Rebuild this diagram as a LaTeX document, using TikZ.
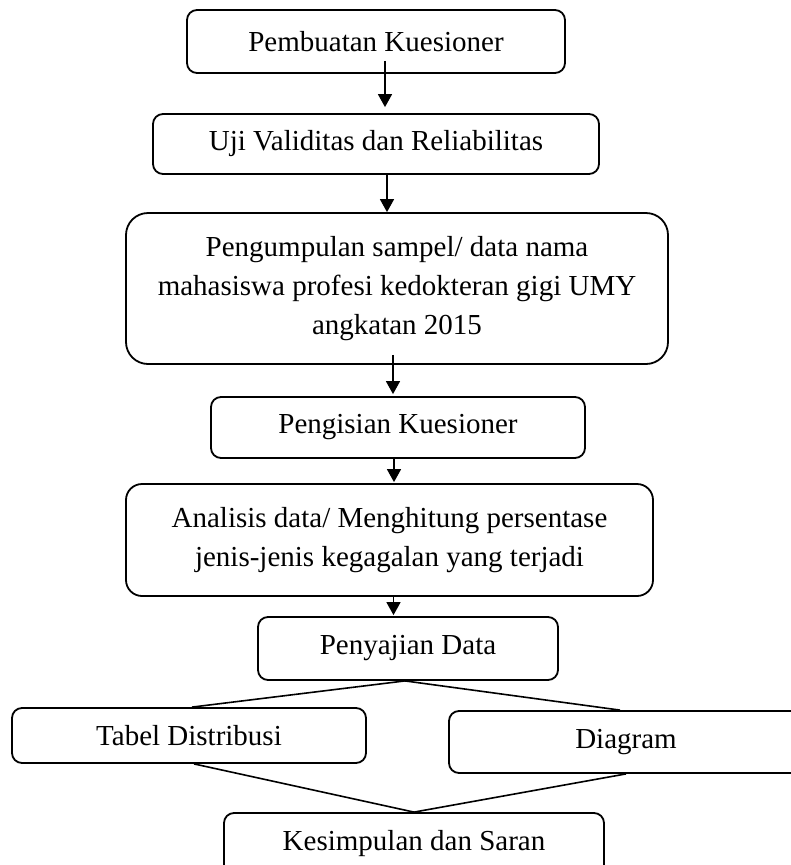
\documentclass[tikz,border=0pt]{standalone}
\usepackage{fontspec}
\setmainfont{Liberation Serif}
\usepackage{tikz}
\usetikzlibrary{arrows.meta,positioning,calc}

\begin{document}
\begin{tikzpicture}[x=1pt,y=-1pt,
    stage/.style={rectangle,rounded corners=10pt,draw=black,line width=1.8pt,align=center,inner sep=0pt,
      font=\fontsize{29}{39}\selectfont},
    flow/.style={-{Triangle[length=13pt,width=14pt]},line width=1.5pt},
    link/.style={line width=1.6pt},
]
\useasboundingbox (0,0) rectangle (791,865);
\clip (0,0) rectangle (791,865);
\node[stage,minimum width=378pt,minimum height=63pt] (buat) at (376,41.5) {Pembuatan Kuesioner};
\node[stage,minimum width=446pt,minimum height=60pt] (uji) at (376,144) {Uji Validitas dan Reliabilitas};
\node[stage,rounded corners=22pt,minimum width=542pt,minimum height=151pt] (sampel) at (397,288.5)
  {Pengumpulan sampel/ data nama\\mahasiswa profesi kedokteran gigi UMY\\angkatan 2015};
\node[stage,minimum width=374pt,minimum height=61pt] (isi) at (398,427.5) {Pengisian Kuesioner};
\node[stage,rounded corners=16pt,minimum width=527pt,minimum height=112pt] (analisis) at (389.5,540)
  {Analisis data/ Menghitung persentase\\jenis-jenis kegagalan yang terjadi};
\node[stage,minimum width=300pt,minimum height=63pt] (saji) at (408,648.5) {Penyajian Data};
\node[stage,minimum width=354pt,minimum height=55pt] (tabel) at (189,735.5) {Tabel Distribusi};
\node[stage,minimum width=354pt,minimum height=62pt] (diagram) at (626,742) {Diagram};
\node[stage,minimum width=380pt,minimum height=62pt] (simpul) at (414,844) {Kesimpulan dan Saran};

\draw[flow] ([xshift=9pt,yshift=13pt]buat.south) -- ([xshift=9pt,yshift=6pt]uji.north);
\draw[flow] ([xshift=11pt]uji.south) -- ([xshift=-10pt]sampel.north);
\draw[flow] ([xshift=-4pt,yshift=10pt]sampel.south) -- ([xshift=-5pt,yshift=2pt]isi.north);
\draw[flow] ([xshift=-4pt]isi.south) -- ([xshift=4.5pt,yshift=1pt]analisis.north);
\draw[flow] ([xshift=4pt]analisis.south) -- ([xshift=-14.5pt,yshift=1pt]saji.north);

\draw[link] ([xshift=-3pt]saji.south) -- ([xshift=3pt]tabel.north);
\draw[link] ([xshift=-3pt]saji.south) -- ([xshift=-6pt]diagram.north);
\draw[link] ([xshift=5pt]tabel.south) -- (simpul.north);
\draw[link] (diagram.south) -- (simpul.north);
\end{tikzpicture}
\end{document}
